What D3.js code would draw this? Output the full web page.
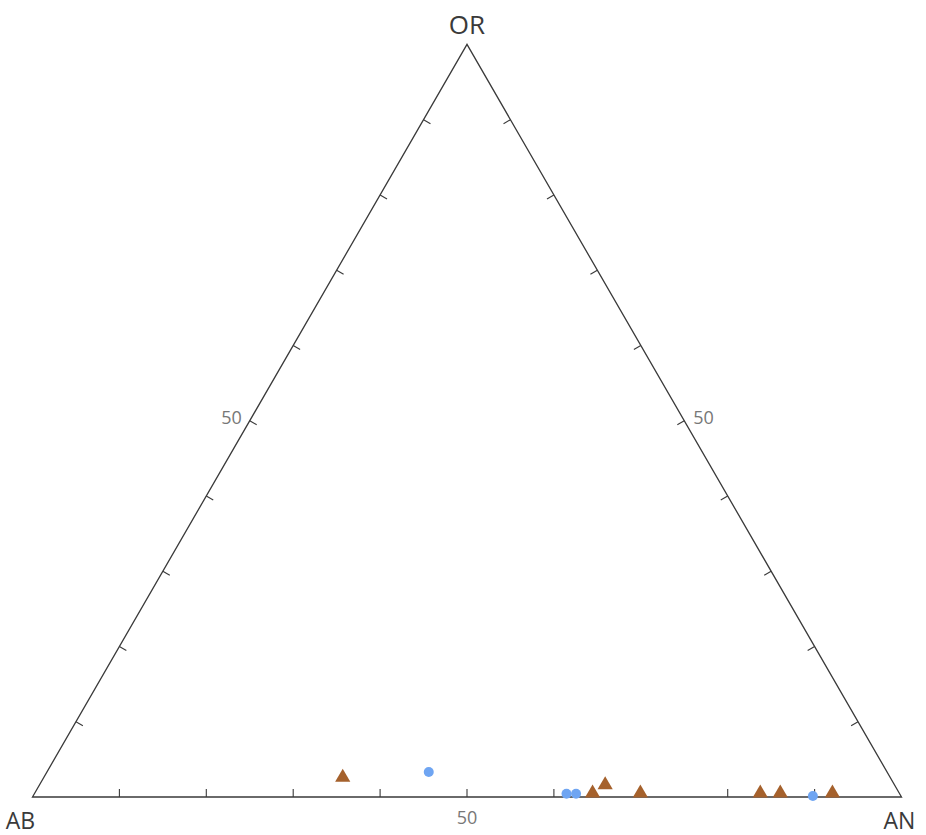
<!DOCTYPE html>
<html>
<head>
<meta charset="utf-8">
<script src="https://cdn.jsdelivr.net/npm/d3@7"></script>
<style>
html,body{margin:0;padding:0;background:#fff;}
svg{display:block;}
</style>
</head>
<body>
<script>
// Vertex labels
const vertices = ["AB", "AN", "OR"];
// Tick values (percent) along each edge
const tickValues = [10, 20, 30, 40, 50, 60, 70, 80, 90];
const labelledTick = 50;
// Circles: [AN %, OR %]  (AB = 100 - AN - OR)
const circleAN = [44.0, 61.3, 62.4, 89.8];
const circleOR = [3.2, 0.3, 0.3, 0.0];
// Triangles: [AN %, OR %]
const triAN = [34.4, 64.2, 65.1, 69.7, 83.5, 85.8, 91.8];
const triOR = [2.6, 0.5, 1.6, 0.5, 0.5, 0.5, 0.5];

const W = 926, H = 835;
const svg = d3.select("body").append("svg").attr("width", W).attr("height", H);

// Cartesian scales for the ternary projection
const xL = 32.5, xR = 901.5, yBase = 797;
const side = xR - xL;
const xs = d3.scaleLinear().domain([0, 1]).range([xL, xR]);
const ys = d3.scaleLinear().domain([0, 1]).range([yBase, yBase - side * Math.sqrt(3) / 2]);
// AN and OR in percent -> pixel
function proj(an, or) {
  const a = an / 100, o = or / 100;
  return [xs(a + o / 2), ys(o)];
}
const pAB = proj(0, 0), pAN = proj(100, 0), pOR = proj(0, 100);

const lineCol = "#3a3a3a";
svg.append("path")
  .attr("d", d3.line()([pAB, pAN, pOR, pAB]) + "Z")
  .attr("fill", "none").attr("stroke", lineCol).attr("stroke-width", 1.3)
  .attr("stroke-linejoin", "miter");

// ticks
const tl = 8;
const s3 = Math.sqrt(3) / 2;
const tg = svg.append("g").attr("stroke", lineCol).attr("stroke-width", 1.1);
// bottom edge (AN)
tickValues.forEach(v => {
  const p = proj(v, 0);
  tg.append("line").attr("x1", p[0]).attr("y1", p[1]).attr("x2", p[0]).attr("y2", p[1] - tl);
});
// left edge (OR from AB)
tickValues.forEach(v => {
  const p = proj(0, v);
  tg.append("line").attr("x1", p[0]).attr("y1", p[1]).attr("x2", p[0] + tl * s3).attr("y2", p[1] + tl * 0.5);
});
// right edge (OR from AN)
tickValues.forEach(v => {
  const p = proj(100 - v, v);
  tg.append("line").attr("x1", p[0]).attr("y1", p[1]).attr("x2", p[0] - tl * s3).attr("y2", p[1] + tl * 0.5);
});

// tick labels "50"
const lblFont = "'Open Sans', 'DejaVu Sans', sans-serif";
const lblCol = "#777";
const pB = proj(labelledTick, 0);
svg.append("text").attr("x", pB[0]).attr("y", pB[1] + 27).attr("text-anchor", "middle")
  .attr("font-family", lblFont).attr("font-size", 18).attr("fill", lblCol).text(String(labelledTick));
const pLft = proj(0, labelledTick);
svg.append("text").attr("x", pLft[0] - 8).attr("y", pLft[1] + 3).attr("text-anchor", "end")
  .attr("font-family", lblFont).attr("font-size", 18).attr("fill", lblCol).text(String(labelledTick));
const pRgt = proj(100 - labelledTick, labelledTick);
svg.append("text").attr("x", pRgt[0] + 9).attr("y", pRgt[1] + 3).attr("text-anchor", "start")
  .attr("font-family", lblFont).attr("font-size", 18).attr("fill", lblCol).text(String(labelledTick));

// vertex labels
const vFont = "'Open Sans', 'DejaVu Sans', sans-serif";
svg.append("text").attr("x", pOR[0]).attr("y", pOR[1] - 10).attr("text-anchor", "middle")
  .attr("font-family", vFont).attr("font-size", 26).attr("fill", "#3a3a3a").text(vertices[2]);
svg.append("text").attr("x", pAB[0] - 12).attr("y", pAB[1] + 32).attr("text-anchor", "middle")
  .attr("font-family", vFont).attr("font-size", 23).attr("fill", "#3a3a3a").text(vertices[0]);
svg.append("text").attr("x", pAN[0] - 2).attr("y", pAN[1] + 32).attr("text-anchor", "middle")
  .attr("font-family", vFont).attr("font-size", 23).attr("fill", "#3a3a3a").text(vertices[1]);

// points
const circles = circleAN.map((a, i) => proj(a, circleOR[i]));
const tris = triAN.map((a, i) => proj(a, triOR[i]));

svg.append("g").selectAll("path").data(tris).join("path")
  .attr("d", d3.symbol(d3.symbolTriangle, 100)())
  .attr("transform", d => `translate(${d[0]},${d[1]})`)
  .attr("fill", "#a5612c");

svg.append("g").selectAll("circle").data(circles).join("circle")
  .attr("cx", d => d[0]).attr("cy", d => d[1] - 1).attr("r", 5)
  .attr("fill", "#6fa5f2");
</script>
</body>
</html>
